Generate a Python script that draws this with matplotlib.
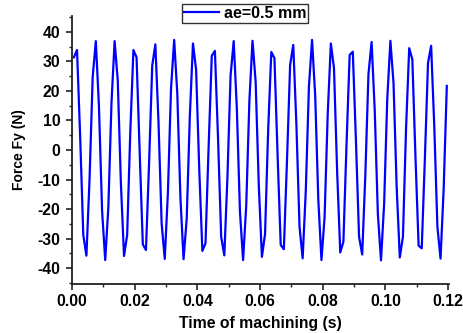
import numpy as np
import matplotlib
matplotlib.use("Agg")
import matplotlib.pyplot as plt
from matplotlib.ticker import MultipleLocator

plt.rcParams['font.family'] = ['Liberation Sans', 'DejaVu Sans']
plt.rcParams['font.weight'] = 'bold'
plt.rcParams['axes.unicode_minus'] = False

# sampling of the signal
t_start = 0.0006
t_step = 0.001
force_fy = [
    31.4, 33.9, 4.7, -28.8, -35.8, -9.8, 24.7, 36.9, 14.8, -20.6,
    -37.3, -19.4, 16.0, 36.9, 23.6, -11.2, -35.9, -28.8, 6.1, 33.9,
    31.4, -0.9, -32.0, -33.9, -4.4, 28.6, 35.8, 9.5, -24.9, -36.9,
    -14.5, 20.9, 37.3, 19.1, -16.3, -37.0, -23.4, 11.5, 36.1, 27.2,
    -6.4, -34.2, -31.6, 1.2, 31.9, 33.6, 4.0, -29.4, -35.7, -9.2,
    25.2, 36.9, 14.1, -21.1, -37.3, -18.8, 16.6, 37.0, 23.1, -11.8,
    -36.2, -28.5, 6.8, 33.2, 31.1, -1.6, -32.2, -33.6, -3.7, 28.8,
    35.6, 8.8, -26.0, -36.7, -13.8, 21.4, 37.3, 18.5, -16.9, -37.3,
    -22.8, 12.2, 36.1, 27.7, -7.1, -34.7, -31.1, 1.9, 32.2, 33.3,
    3.3, -29.4, -35.4, -8.5, 25.7, 36.6, 13.5, -21.7, -37.4, -18.2,
    17.3, 37.0, 22.6, -12.5, -36.4, -29.4, 7.4, 34.5, 30.7, -2.3,
    -32.4, -33.3, -3.0, 29.5, 35.3, 8.1, -26.0, -36.8, -13.1, 21.7,
]
time_s = t_start + t_step * np.arange(len(force_fy))

x_ticks = [0.00, 0.02, 0.04, 0.06, 0.08, 0.10, 0.12]
x_tick_labels = ["0.00", "0.02", "0.04", "0.06", "0.08", "0.10", "0.12"]
y_ticks = [-40, -30, -20, -10, 0, 10, 20, 30, 40]
series_label = "ae=0.5 mm"

fig = plt.figure(figsize=(4.64, 3.33), dpi=100)
ax = fig.add_axes([72/464, 1-284/333, (449-72)/464, (284-16)/333])

ax.plot(time_s, force_fy, color='#0000FF', lw=1.6, label=series_label)

ax.set_xlim(0, 0.1203)
ax.set_ylim(-45.4, 45.4)
ax.set_xticks(x_ticks)
ax.set_xticklabels(x_tick_labels)
ax.set_yticks(y_ticks)
ax.xaxis.set_minor_locator(MultipleLocator(0.01))
ax.yaxis.set_minor_locator(MultipleLocator(5))

for s in ['top', 'right']:
    ax.spines[s].set_visible(False)
for s in ['left', 'bottom']:
    ax.spines[s].set_linewidth(1.3)
    ax.spines[s].set_color('#222222')

ax.tick_params(which='major', direction='out', length=4.5, width=1.2,
               labelsize=11.3, pad=2.5, color='#222222')
ax.tick_params(which='minor', direction='out', length=2.5, width=1.0,
               color='#222222')
ax.tick_params(axis='y', which='major', pad=4)
for lab in ax.get_xticklabels() + ax.get_yticklabels():
    lab.set_fontweight('bold')

ax.set_xlabel("Time of machining (s)", fontsize=11.3, fontweight='bold', labelpad=5)
ax.set_ylabel("Force Fy (N)", fontsize=10, fontweight='bold', labelpad=8)

leg = fig.legend(loc='upper center', bbox_to_anchor=(245/464, 1-4/333),
                 fontsize=11.5, frameon=True, fancybox=False, edgecolor='black',
                 handlelength=2.2, handletextpad=0.3, borderpad=0.12,
                 borderaxespad=0)
leg.get_frame().set_linewidth(1.0)
for txt in leg.get_texts():
    txt.set_fontweight('bold')

fig.savefig("out.png", dpi=100)
